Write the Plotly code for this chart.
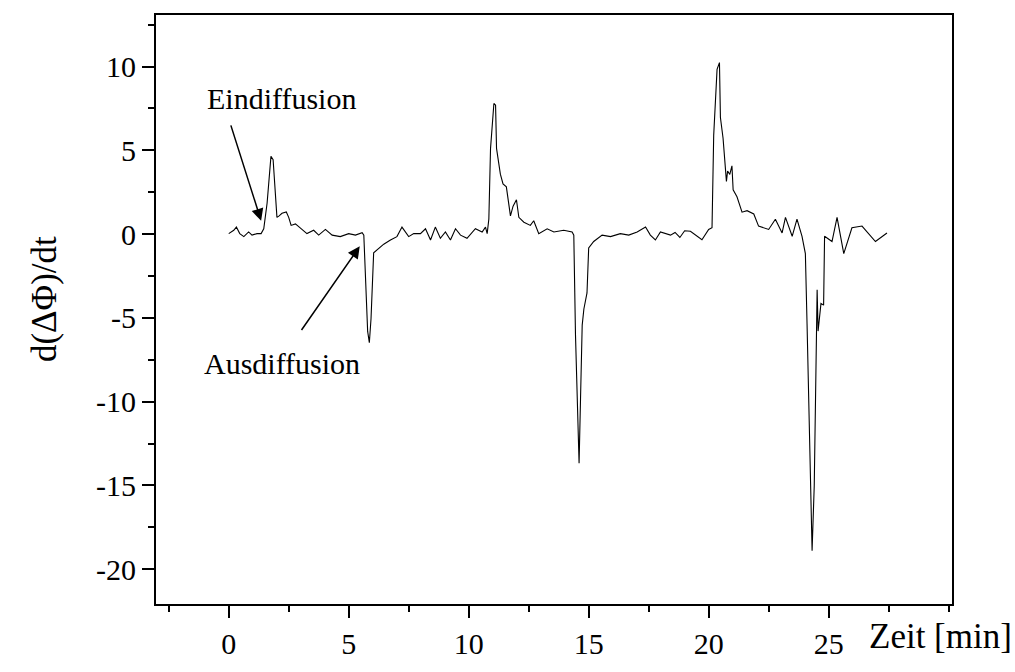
import plotly.graph_objects as go

# time in minutes
t = [0.0, 0.21, 0.32, 0.46, 0.63, 0.83, 0.97, 1.18, 1.35, 1.46, 1.6, 1.69, 1.76, 1.85, 1.94,
     2.01, 2.1, 2.22, 2.4, 2.5, 2.6, 2.78, 2.99, 3.26, 3.54, 3.75, 4.03, 4.31, 4.65, 5.0,
     5.28, 5.56, 5.63, 5.7, 5.79, 5.86, 5.93, 6.04, 6.25, 6.46, 6.74, 7.01, 7.22, 7.36, 7.5,
     7.71, 7.99, 8.2, 8.41, 8.61, 8.82, 9.03, 9.24, 9.45, 9.66, 9.93, 10.28, 10.56, 10.7, 10.77,
     10.84, 10.91, 11.05, 11.12, 11.16, 11.32, 11.43, 11.57, 11.67, 11.74, 11.85, 11.99, 12.09,
     12.3, 12.57, 12.71, 12.92, 13.27, 13.55, 13.96, 14.31, 14.38, 14.45, 14.6, 14.66, 14.73,
     14.8, 14.93, 15.0, 15.21, 15.56, 15.91, 16.32, 16.67, 17.02, 17.37, 17.57, 17.78, 17.99,
     18.41, 18.6, 18.8, 19.0, 19.24, 19.72, 20.0, 20.14, 20.21, 20.35, 20.45, 20.49, 20.6,
     20.74, 20.79, 20.88, 20.97, 21.02, 21.18, 21.39, 21.6, 21.88, 22.08, 22.5, 22.78, 23.06,
     23.2, 23.48, 23.68, 23.89, 24.03, 24.1, 24.31, 24.4, 24.52, 24.56, 24.68, 24.79, 24.83,
     25.14, 25.35, 25.63, 25.97, 26.39, 26.95, 27.43]
# d(dPhi)/dt
signal = [0.03, 0.23, 0.42, 0.03, -0.15, 0.13, -0.06, 0.03, 0.03, 0.32, 1.86, 3.2, 4.64, 4.45, 2.62,
          1.0, 1.09, 1.24, 1.32, 1.0, 0.52, 0.61, 0.36, 0.03, 0.23, -0.06, 0.28, -0.06, -0.15, 0.03,
          -0.06, 0.09, -0.06, -2.55, -5.81, -6.48, -5.05, -1.11, -0.83, -0.6, -0.35, -0.15, 0.42, 0.13, -0.15,
          0.03, 0.03, 0.32, -0.35, 0.42, -0.25, 0.13, -0.35, 0.32, -0.06, -0.25, 0.32, 0.13, 0.42, 0.03,
          0.9, 5.12, 7.8, 7.7, 5.12, 3.58, 3.0, 2.82, 1.86, 1.09, 1.67, 2.05, 1.0,
          0.71, 0.52, 0.8, 0.03, 0.32, 0.13, 0.23, 0.13, -0.06, -6.0, -13.68, -9.84, -5.43,
          -4.47, -3.51, -0.83, -0.44, -0.06, -0.15, 0.03, -0.06, 0.13, 0.42, -0.06, -0.35, 0.13,
          -0.06, 0.1, -0.2, 0.2, 0.17, -0.34, 0.28, 0.38, 5.9, 9.83, 10.24, 6.96, 5.72,
          3.15, 3.77, 3.56, 4.08, 2.64, 2.23, 1.31, 1.4, 1.2, 0.48, 0.28, 0.89, 0.07,
          1.0, -0.13, 0.89, -0.13, -1.16, -5.37, -18.9, -15.0, -3.32, -5.79, -4.14, -4.24, -0.13,
          -0.44, 1.0, -1.16, 0.38, 0.48, -0.44, 0.07]

x_tick_vals = [0, 5, 10, 15, 20, 25]
x_tick_labels = ["0", "5", "10", "15", "20", "25"]
y_tick_vals = [-20, -15, -10, -5, 0, 5, 10]
y_tick_labels = ["-20", "-15", "-10", "-5", "0", "5", "10"]

FONT = "Liberation Serif"

fig = go.Figure()
fig.add_trace(go.Scatter(x=t, y=signal, mode="lines",
                         line=dict(color="black", width=1.1), showlegend=False,
                         hoverinfo="skip"))

axis_common = dict(showline=True, linecolor="black", linewidth=2, mirror=True,
                   ticks="outside", ticklen=12, tickwidth=2, tickcolor="black",
                   showgrid=False, zeroline=False,
                   tickfont=dict(family=FONT, size=30, color="black"))

fig.update_xaxes(range=[-3.03, 30.14], tickvals=x_tick_vals, ticktext=x_tick_labels,
                 minor=dict(dtick=2.5, tick0=0, ticks="outside", ticklen=6, tickwidth=2,
                            tickcolor="black", showgrid=False),
                 **axis_common)
fig.update_yaxes(range=[-22.08, 13.08], tickvals=y_tick_vals, ticktext=y_tick_labels,
                 minor=dict(dtick=2.5, tick0=0, ticks="outside", ticklen=6, tickwidth=2,
                            tickcolor="black", showgrid=False),
                 **axis_common)

annots = [
    dict(x=1.35, y=0.8, ax=0.07, ay=6.58, xref="x", yref="y", axref="x", ayref="y",
         text="", showarrow=True, arrowhead=2, arrowsize=1.6, arrowwidth=1.5,
         arrowcolor="black", standoff=0),
    dict(x=5.46, y=-0.73, ax=2.99, ay=-5.81, xref="x", yref="y", axref="x", ayref="y",
         text="", showarrow=True, arrowhead=2, arrowsize=1.6, arrowwidth=1.5,
         arrowcolor="black", standoff=0),
    dict(x=2.2, y=8.1, xref="x", yref="y", text="Eindiffusion", showarrow=False,
         font=dict(family=FONT, size=30, color="black"), xanchor="center", yanchor="middle"),
    dict(x=2.22, y=-7.75, xref="x", yref="y", text="Ausdiffusion", showarrow=False,
         font=dict(family=FONT, size=30, color="black"), xanchor="center", yanchor="middle"),
    dict(x=1.078, y=-0.056, xref="paper", yref="paper", text="Zeit [min]", showarrow=False,
         font=dict(family=FONT, size=35, color="black"), xanchor="right", yanchor="middle"),
    dict(x=-0.14, y=0.517, xref="paper", yref="paper", text="d(ΔΦ)/dt", showarrow=False,
         textangle=-90, font=dict(family=FONT, size=35, color="black"),
         xanchor="center", yanchor="middle"),
]
fig.update_layout(width=1015, height=672, margin=dict(l=156, r=63, t=15, b=46),
                  paper_bgcolor="white", plot_bgcolor="white", annotations=annots,
                  font=dict(family=FONT, color="black"))

fig.write_html("out.html")
